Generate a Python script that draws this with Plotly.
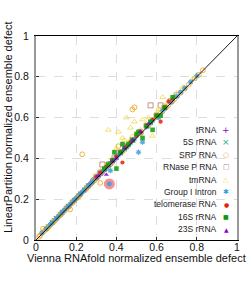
import plotly.graph_objects as go

# ---- data ----
trna_x = [0.12, 0.15, 0.18, 0.20, 0.22, 0.25, 0.27, 0.29, 0.31, 0.33, 0.35, 0.38]
trna_y = [0.125, 0.155, 0.185, 0.205, 0.225, 0.255, 0.275, 0.30, 0.315, 0.335, 0.355, 0.385]

s5_x = [0.06, 0.08, 0.09, 0.10, 0.12, 0.13, 0.15, 0.16, 0.18, 0.19, 0.21, 0.22, 0.24,
        0.25, 0.26, 0.28, 0.29, 0.30, 0.32, 0.34, 0.36, 0.37, 0.40, 0.42, 0.46, 0.57]
s5_y = [0.066, 0.086, 0.096, 0.106, 0.126, 0.136, 0.156, 0.166, 0.186, 0.196, 0.216, 0.226, 0.246,
        0.256, 0.266, 0.286, 0.296, 0.306, 0.326, 0.346, 0.366, 0.376, 0.406, 0.426, 0.466, 0.576]

srp_x = [0.015, 0.02, 0.03, 0.035, 0.04, 0.05, 0.055, 0.06, 0.07, 0.08,
         0.085, 0.09, 0.10, 0.11, 0.12, 0.125, 0.13, 0.14, 0.15, 0.16,
         0.165, 0.17, 0.18, 0.19, 0.20, 0.21, 0.215, 0.22, 0.23, 0.24,
         0.245, 0.25, 0.26, 0.27, 0.28, 0.29, 0.30, 0.31, 0.32, 0.33,
         0.35, 0.37, 0.38, 0.41, 0.44, 0.48, 0.49, 0.52, 0.56, 0.60,
         0.62, 0.63, 0.65, 0.66, 0.68, 0.69, 0.72, 0.74, 0.76, 0.79,
         0.81, 0.83]
srp_y = [0.015, 0.022, 0.035, 0.055, 0.043, 0.052, 0.057, 0.062, 0.072, 0.082,
         0.087, 0.092, 0.102, 0.112, 0.122, 0.127, 0.132, 0.142, 0.152, 0.162,
         0.167, 0.15, 0.182, 0.192, 0.202, 0.212, 0.217, 0.222, 0.42, 0.242,
         0.247, 0.252, 0.262, 0.272, 0.282, 0.292, 0.302, 0.312, 0.28, 0.332,
         0.352, 0.372, 0.382, 0.46, 0.442, 0.64, 0.65, 0.522, 0.562, 0.602,
         0.622, 0.632, 0.652, 0.662, 0.682, 0.692, 0.722, 0.742, 0.762, 0.792,
         0.81, 0.832]

rnasep_x = [0.30, 0.32, 0.33, 0.36, 0.39, 0.42, 0.45, 0.48, 0.52, 0.55, 0.57, 0.60, 0.62, 0.64, 0.67, 0.70]
rnasep_y = [0.31, 0.33, 0.37, 0.37, 0.40, 0.43, 0.46, 0.49, 0.53, 0.56, 0.66, 0.61, 0.66, 0.65, 0.68, 0.71]

tmrna_x = [0.30, 0.33, 0.35, 0.36, 0.38, 0.40, 0.41, 0.43, 0.44, 0.45, 0.46, 0.47, 0.48, 0.49,
           0.50, 0.52, 0.53, 0.55, 0.56, 0.58, 0.60, 0.61, 0.62, 0.63, 0.64, 0.66, 0.68, 0.70, 0.73, 0.78]
tmrna_y = [0.32, 0.35, 0.37, 0.54, 0.40, 0.45, 0.53, 0.50, 0.49, 0.60, 0.48, 0.55, 0.51, 0.58,
           0.52, 0.54, 0.59, 0.57, 0.60, 0.51, 0.62, 0.64, 0.64, 0.70, 0.66, 0.68, 0.70, 0.72, 0.75, 0.79]

group1_x = [0.03, 0.05, 0.07, 0.08, 0.10, 0.11, 0.13, 0.14, 0.16, 0.17,
            0.19, 0.20, 0.22, 0.23, 0.24, 0.26, 0.27, 0.28, 0.30, 0.31,
            0.33, 0.34, 0.35, 0.365, 0.37, 0.38, 0.39, 0.41, 0.43, 0.45,
            0.47, 0.49, 0.51, 0.53, 0.55, 0.57, 0.58, 0.61, 0.63, 0.64,
            0.67, 0.70, 0.72, 0.74, 0.77, 0.80]
group1_y = [0.034, 0.055, 0.075, 0.085, 0.105, 0.115, 0.135, 0.145, 0.165, 0.175,
            0.195, 0.205, 0.225, 0.235, 0.245, 0.265, 0.275, 0.285, 0.305, 0.315,
            0.335, 0.345, 0.355, 0.275, 0.34, 0.385, 0.395, 0.415, 0.435, 0.455,
            0.475, 0.495, 0.43, 0.48, 0.555, 0.575, 0.585, 0.60, 0.635, 0.645,
            0.675, 0.705, 0.725, 0.745, 0.775, 0.805]

telo_x = [0.30, 0.32, 0.35, 0.38, 0.40, 0.42, 0.43, 0.45, 0.47, 0.50, 0.52, 0.55, 0.58, 0.60, 0.62, 0.64, 0.66, 0.68]
telo_y = [0.31, 0.33, 0.36, 0.39, 0.41, 0.43, 0.38, 0.46, 0.48, 0.51, 0.53, 0.56, 0.59, 0.61, 0.58, 0.65, 0.68, 0.69]

s16_x = [0.34, 0.36, 0.38, 0.39, 0.40, 0.42, 0.43, 0.44, 0.46, 0.48, 0.50, 0.51, 0.53, 0.55, 0.57,
         0.58, 0.60, 0.62, 0.64, 0.68]
s16_y = [0.35, 0.37, 0.39, 0.43, 0.35, 0.43, 0.47, 0.45, 0.47, 0.49, 0.52, 0.53, 0.50, 0.56, 0.58,
         0.54, 0.61, 0.61, 0.65, 0.70]

s23_x = [0.31, 0.35, 0.38, 0.40, 0.44, 0.48, 0.52, 0.56]
s23_y = [0.315, 0.32, 0.385, 0.40, 0.45, 0.49, 0.53, 0.57]

highlight_x = [0.365]
highlight_y = [0.275]

diag_x = [0, 1]
diag_y = [0, 1]

tick_vals = [0, 0.2, 0.4, 0.6, 0.8, 1]
tick_text = ["0", "0.2", "0.4", "0.6", "0.8", "1"]

# name, x, y, plotly symbol, colour, size, line width, legend glyph, glyph size
series = [
    ("tRNA", trna_x, trna_y, "cross-thin-open", "#9400d3", 4.5, 1.1, "+", 9),
    ("5S rRNA", s5_x, s5_y, "x-thin-open", "#2aa98a", 4.5, 1.1, "×", 9),
    ("SRP RNA", srp_x, srp_y, "circle-open", "#f2a31a", 4.8, 1, "○", 7),
    ("RNase P RNA", rnasep_x, rnasep_y, "square-open", "#c07a78", 5, 1, "□", 7),
    ("tmRNA", tmrna_x, tmrna_y, "triangle-up-open", "#f0dc50", 5, 1, "△", 7),
    ("Group I Intron", group1_x, group1_y, "asterisk-open", "#3d9bd8", 4.5, 1.1, "✱", 7),
    ("telomerase RNA", telo_x, telo_y, "circle", "#e51e10", 4.2, 0, "●", 6),
    ("16S rRNA", s16_x, s16_y, "square", "#0c9a0c", 4.6, 0, "■", 6),
    ("23S rRNA", s23_x, s23_y, "triangle-up", "#9400d3", 4.6, 0, "▲", 6),
]

FONT = "Liberation Sans, Arial, sans-serif"
W, H = 249, 294
# plot area in page pixels: left 36, right 237, top 36, bottom 240
ML, MT = 36, 36
MR = W - 237
MB = H - 240
PW = W - ML - MR
PH = H - MT - MB


def px_x(page_x):
    return (page_x - ML) / PW


def px_y(page_y):
    return (H - MB - page_y) / PH


fig = go.Figure()

fig.add_trace(go.Scatter(x=highlight_x, y=highlight_y, mode="markers",
                         marker=dict(symbol="circle", size=11, color="rgba(240,110,120,0.75)"),
                         showlegend=False, hoverinfo="skip"))

annotations = []
for i, (name, xs, ys, sym, col, sz, lw, glyph, gsz) in enumerate(series):
    fig.add_trace(go.Scatter(
        x=xs, y=ys, mode="markers", name=name, showlegend=False,
        marker=dict(symbol=sym, size=sz, color=col, opacity=0.85,
                    line=dict(color=col, width=lw)),
    ))
    py = 130 + 12.4 * i
    annotations.append(dict(
        x=px_x(219), y=px_y(py), xref="paper", yref="paper",
        xanchor="right", yanchor="middle", showarrow=False,
        text=name, font=dict(family=FONT, size=8.5, color="#222222"),
    ))
    annotations.append(dict(
        x=px_x(226), y=px_y(py), xref="paper", yref="paper",
        xanchor="center", yanchor="middle", showarrow=False,
        text=glyph, font=dict(family="DejaVu Sans", size=gsz, color=col),
    ))

fig.add_trace(go.Scatter(x=diag_x, y=diag_y, mode="lines",
                         line=dict(color="black", width=0.9),
                         showlegend=False, hoverinfo="skip"))

annotations.append(dict(
    x=px_x(8), y=px_y(127), xref="paper", yref="paper",
    xanchor="center", yanchor="middle", showarrow=False, textangle=-90,
    text="LinearPartition normalized ensemble defect",
    font=dict(family=FONT, size=11, color="#111111"),
))
annotations.append(dict(
    x=px_x(136.5), y=px_y(258), xref="paper", yref="paper",
    xanchor="center", yanchor="middle", showarrow=False,
    text="Vienna RNAfold normalized ensemble defect",
    font=dict(family=FONT, size=11, color="#111111"),
))

axis_common = dict(
    range=[0, 1], tickvals=tick_vals, ticktext=tick_text,
    showgrid=True, gridcolor="#dddddd", griddash="dash", gridwidth=1,
    zeroline=False, ticks="inside", ticklen=3, tickcolor="#333333",
    tickfont=dict(family=FONT, size=10.5, color="#111111"),
    mirror=True, showline=True, automargin=False,
)

fig.update_layout(
    width=W, height=H,
    margin=dict(l=ML, r=MR, t=MT, b=MB, pad=0, autoexpand=False),
    paper_bgcolor="white", plot_bgcolor="white",
    showlegend=False,
    xaxis=dict(**axis_common, linecolor="black", linewidth=1, ticklabelstandoff=-3),
    yaxis=dict(**axis_common, linecolor="#999999", linewidth=2, ticklabelstandoff=3),
    annotations=annotations,
)

# the page body keeps no default margin, so the figure fills the window exactly
fig.write_html("out.html", config={"displayModeBar": False},
               post_script="document.body.style.margin='0';")
